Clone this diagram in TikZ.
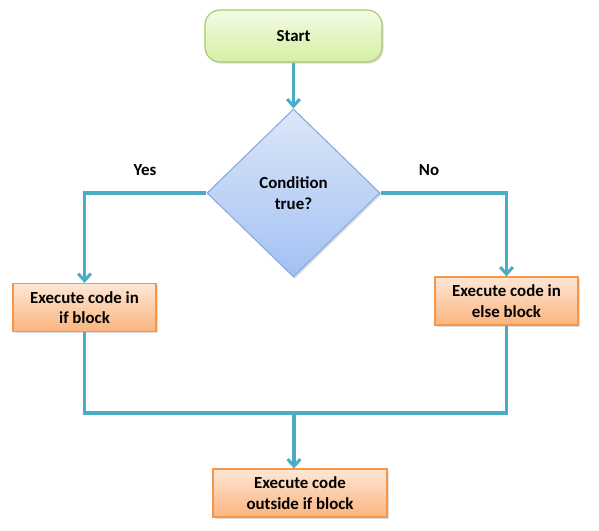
\documentclass[tikz,border=0pt]{standalone}
\usepackage{fontspec}
\setmainfont{Carlito}
\usepackage{xcolor}
\usepackage{tikz}
\usetikzlibrary{shapes.geometric,shadows,arrows.meta}
\definecolor{flowline}{HTML}{4BACC6}
\definecolor{termtop}{HTML}{F4FBE6}
\definecolor{termbot}{HTML}{D5EFA3}
\definecolor{termline}{HTML}{A6C86A}
\definecolor{condtop}{HTML}{DCE7F9}
\definecolor{condbot}{HTML}{A3C0F3}
\definecolor{condline}{HTML}{8DAADC}
\definecolor{acttop}{HTML}{FDE7D6}
\definecolor{actbot}{HTML}{FBB47E}
\definecolor{actline}{HTML}{F79646}
\tikzset{base/.style={draw,line width=0.8pt,inner sep=0pt,align=center,font=\fontsize{12}{14.5}\selectfont\bfseries,
    drop shadow={opacity=0.25,shadow xshift=1.2pt,shadow yshift=-1.2pt}},
  term/.style={base,rectangle,rounded corners=0.375cm,draw=termline,top color=termtop,bottom color=termbot,
    minimum width=4.425cm,minimum height=1.3cm},
  decide/.style={base,diamond,aspect=1,draw=condline,top color=condtop,bottom color=condbot,
    minimum width=4.325cm,minimum height=4.2cm},
  act/.style={base,rectangle,draw=actline,top color=acttop,bottom color=actbot,
    minimum height=1.2cm},
  lbl/.style={font=\fontsize{12}{14.5}\selectfont\bfseries}}

\begin{document}
\begin{tikzpicture}[x=0.025cm,y=-0.025cm,>={Straight Barb[length=5pt,width=9pt]}]
    \useasboundingbox (0,0) rectangle (599,531);
    \node[term] (start) at (293.5,36) {Start};
    \node[decide] (cond) at (293.5,193) {Condition\\true?};
    \node[act,minimum width=3.575cm] (ifb) at (84.5,307.5) {Execute code in\\if block};
    \node[act,minimum width=3.575cm] (elseb) at (506.5,301) {Execute code in\\else block};
    \node[act,minimum width=4.35cm] (outb) at (300,493) {Execute code\\outside if block};
    \node[lbl] (yes) at (145,170) {Yes};
    \node[lbl] (no) at (429,170) {No};
    \coordinate (join) at (294,413);

    \draw [->,flowline,line width=2.2pt] (start) to (cond);
    \draw [->,flowline,line width=2.2pt] (cond.west) -| (ifb.north);
    \draw [->,flowline,line width=2.2pt] (cond.east) -| (elseb.north);
    \draw [flowline,line width=2.2pt] (ifb.south) |- (join) -| (elseb.south);
    \draw [->,flowline,line width=2.2pt] (join) to (outb.north -| join);
\end{tikzpicture}
\end{document}
